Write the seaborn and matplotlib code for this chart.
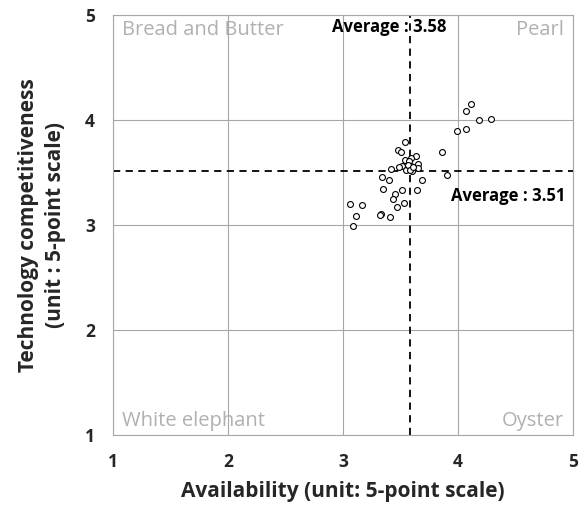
import matplotlib
matplotlib.use("Agg")
import matplotlib.pyplot as plt
import seaborn as sns
import pandas as pd

availability = [4.11, 4.07, 4.18, 4.29, 3.99, 4.07, 3.54, 3.48, 3.50, 3.86,
                3.63, 3.59, 3.54, 3.57, 3.65, 3.51, 3.49, 3.59, 3.65, 3.55,
                3.60, 3.42, 3.34, 3.40, 3.90, 3.69, 3.35, 3.51, 3.64, 3.45,
                3.43, 3.53, 3.47, 3.06, 3.16, 3.11, 3.33, 3.32, 3.41, 3.09,
                3.56, 3.58, 3.61]
technology = [4.15, 4.08, 4.00, 4.01, 3.89, 3.91, 3.79, 3.71, 3.69, 3.69,
              3.66, 3.64, 3.62, 3.61, 3.58, 3.56, 3.55, 3.56, 3.54, 3.52,
              3.51, 3.53, 3.46, 3.43, 3.47, 3.43, 3.34, 3.33, 3.33, 3.29,
              3.25, 3.21, 3.17, 3.20, 3.19, 3.08, 3.10, 3.09, 3.07, 2.99,
              3.57, 3.52, 3.55]
avg_x = 3.58
avg_y = 3.51
ticks = [1, 2, 3, 4, 5]
quadrants = ["Bread and Butter", "Pearl", "White elephant", "Oyster"]

df = pd.DataFrame({"x": availability, "y": technology})

sns.set_theme(style="white")
plt.rcParams['font.family'] = ['Open Sans', 'DejaVu Sans']

fig = plt.figure(figsize=(5.86, 5.11), dpi=100)
ax = fig.add_axes([0.193, 0.149, 0.785, 0.822])

sns.scatterplot(data=df, x="x", y="y", ax=ax, s=18, facecolor="white",
                edgecolor="black", linewidth=0.8, zorder=3)

ax.set_xlim(1, 5)
ax.set_ylim(1, 5)
ax.set_xticks(ticks)
ax.set_yticks(ticks)
ax.set_xticklabels([str(t) for t in ticks], fontsize=12.5, fontweight="bold")
ax.set_yticklabels([str(t) for t in ticks], fontsize=12.5, fontweight="bold")
ax.grid(True, color="#a6a6a6", linewidth=0.8)
ax.tick_params(axis="both", length=5, color="#a6a6a6", width=0.8, pad=8, direction="out")
ax.tick_params(axis="x", pad=8)
for sp in ax.spines.values():
    sp.set_color("#a6a6a6")
    sp.set_linewidth(0.8)

ax.axvline(avg_x, color="black", linestyle=(0, (4, 3)), linewidth=1.3, zorder=2)
ax.axhline(avg_y, color="black", linestyle=(0, (4, 3)), linewidth=1.3, zorder=2)

ax.set_xlabel("Availability (unit: 5-point scale)", fontsize=15, fontweight="bold", labelpad=7)
ax.set_ylabel("Technology competitiveness\n(unit : 5-point scale)", fontsize=15,
              fontweight="bold", labelpad=14, linespacing=1.35)

qc = "#b0b0b0"
ax.text(1.08, 4.86, quadrants[0], ha="left", va="center", fontsize=14.5, color=qc)
ax.text(4.92, 4.86, quadrants[1], ha="right", va="center", fontsize=14.5, color=qc)
ax.text(1.08, 1.13, quadrants[2], ha="left", va="center", fontsize=14.5, color=qc)
ax.text(4.92, 1.13, quadrants[3], ha="right", va="center", fontsize=14.5, color=qc)

ax.text(3.40, 4.885, f"Average : {avg_x:.2f}", ha="center", va="center",
        fontsize=12, fontweight="bold", color="black", zorder=4)
ax.text(4.93, 3.27, f"Average : {avg_y:.2f}", ha="right", va="center",
        fontsize=12, fontweight="bold", color="black", zorder=4)

fig.savefig("out.png", dpi=100)
